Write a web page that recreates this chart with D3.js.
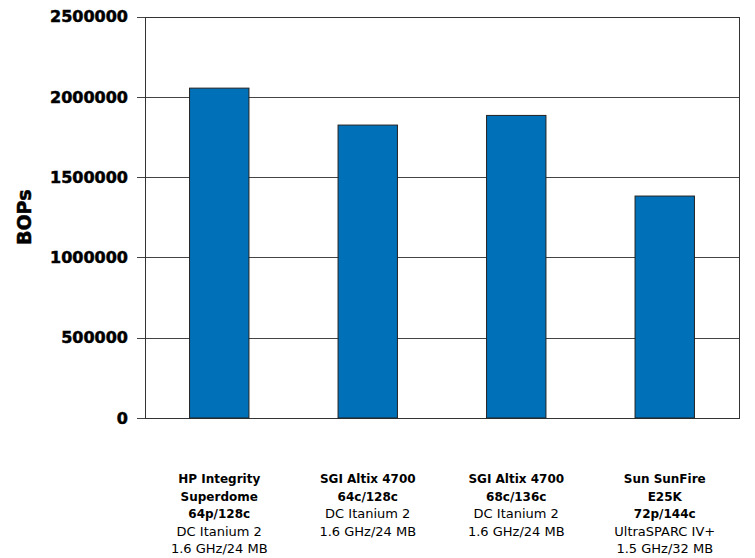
<!DOCTYPE html>
<html><head><meta charset="utf-8">
<script src="https://cdn.jsdelivr.net/npm/d3@7"></script>
<style>body{margin:0;background:#fff}svg{display:block}</style>
</head><body>
<svg id="c" width="755" height="558"></svg>
<script>
const categories = ["HP Integrity Superdome", "SGI Altix 4700 64c", "SGI Altix 4700 68c", "Sun SunFire E25K"];
const boldLines = [["HP Integrity","Superdome","64p/128c"],["SGI Altix 4700","64c/128c"],["SGI Altix 4700","68c/136c"],["Sun SunFire","E25K","72p/144c"]];
const normalLines = [["DC Itanium 2","1.6 GHz/24 MB"],["DC Itanium 2","1.6 GHz/24 MB"],["DC Itanium 2","1.6 GHz/24 MB"],["UltraSPARC IV+","1.5 GHz/32 MB"]];
const values = [2054000, 1824000, 1884000, 1382000];
const yTicks = [0, 500000, 1000000, 1500000, 2000000, 2500000];
const yTitle = "BOPs";

const svg = d3.select("#c");
const m = {l:145, r:739, t:16.5, b:418};
const x = d3.scaleBand().domain(categories).range([m.l, m.r]).paddingInner(0.6).paddingOuter(0.3);
const y = d3.scaleLinear().domain([0, 2500000]).range([m.b, m.t]);

// gridlines
svg.append("g").selectAll("line").data(yTicks).join("line")
  .attr("x1", m.l - 8).attr("x2", m.r)
  .attr("y1", d => Math.round(y(d)) + 0.5).attr("y2", d => Math.round(y(d)) + 0.5)
  .attr("stroke", "#444").attr("stroke-width", 1);

// frame
svg.append("rect").attr("x", m.l + 0.5).attr("y", Math.round(m.t) + 0.5)
  .attr("width", m.r - m.l).attr("height", Math.round(m.b) - Math.round(m.t))
  .attr("fill", "none").attr("stroke", "#333").attr("stroke-width", 1);

// bars
svg.append("g").selectAll("rect").data(values).join("rect")
  .attr("x", (d, i) => x(categories[i]))
  .attr("width", x.bandwidth())
  .attr("y", d => y(d))
  .attr("height", d => y(0) - y(d))
  .attr("fill", "#0070b8").attr("stroke", "#222").attr("stroke-width", 1);

// y tick labels
svg.append("g").selectAll("text").data(yTicks).join("text")
  .attr("x", 128).attr("y", d => y(d)).attr("dy", "0.36em")
  .attr("text-anchor", "end")
  .attr("font-family", "DejaVu Sans").attr("font-weight", "bold").attr("font-size", 16)
  .attr("fill", "#000").attr("stroke", "#000").attr("stroke-width", 0.5)
  .text(d => d);

// y title
svg.append("text").attr("transform", `translate(31,${(m.t + m.b) / 2}) rotate(-90)`)
  .attr("text-anchor", "middle")
  .attr("font-family", "DejaVu Sans").attr("font-weight", "bold").attr("font-size", 19)
  .attr("stroke", "#000").attr("stroke-width", 0.5)
  .text(yTitle);

// category labels
const lh = 17.5;
categories.forEach((c, i) => {
  const cx = x(c) + x.bandwidth() / 2;
  const g = svg.append("text").attr("text-anchor", "middle").attr("font-family", "DejaVu Sans");
  const lines = boldLines[i].map(t => ({t, b: true})).concat(normalLines[i].map(t => ({t, b: false})));
  lines.forEach((L, j) => {
    g.append("tspan").attr("x", cx).attr("y", 483 + j * lh)
      .attr("font-weight", L.b ? "bold" : "normal")
      .attr("font-size", L.b ? 12 : 13)
      .text(L.t);
  });
});
</script>
</body></html>
